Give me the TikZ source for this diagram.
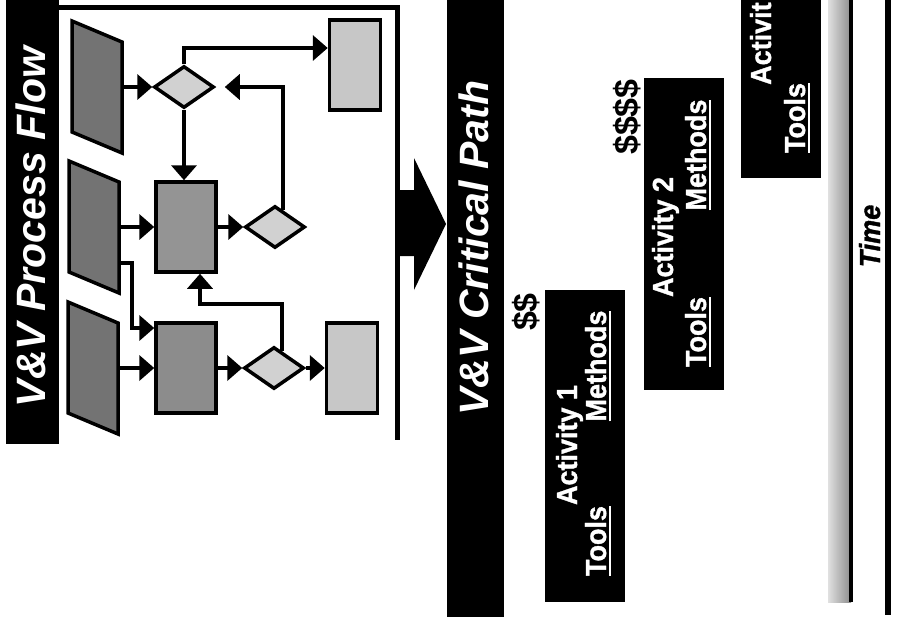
\documentclass[tikz,border=0pt]{standalone}
\usepackage{fontspec}
\setmainfont{Liberation Sans}
\newfontfamily\narrowfont[FakeStretch=0.93, FakeBold=1.2, UprightFont={Liberation Sans Bold},
  ItalicFont={Liberation Sans Bold Italic}, BoldFont={Liberation Sans Bold},
  BoldItalicFont={Liberation Sans Bold Italic}]{Liberation Sans}
\usetikzlibrary{arrows.meta,positioning,shapes.geometric,calc}
\tikzset{
  titlebar/.style={fill=black, rotate=90, minimum width=#1, minimum height=53pt, inner sep=0pt},
  titletext/.style={text=white, rotate=90, inner sep=0pt,
                    font=\bfseries\itshape\fontsize{41}{41}\selectfont},
  iobox/.style={minimum width=50pt, minimum height=90pt, inner sep=0pt},
  iofill/.style={draw, line width=3.5pt, fill=#1},
  procbox/.style={draw, line width=3.5pt, fill=#1, minimum width=60pt, minimum height=90pt, inner sep=0pt},
  decbox/.style={draw, diamond, line width=3.5pt, fill=black!18, minimum width=60pt,
                 minimum height=42pt, inner sep=0pt},
  flowarrow/.style={line width=4pt, -{Triangle[length=15pt, width=25pt]}},
  frameline/.style={line width=5pt},
  actbox/.style={fill=black, minimum width=80pt, minimum height=#1, inner sep=0pt},
  actname/.style={text=white, rotate=90, inner sep=0pt, anchor=base,
                  font=\narrowfont\fontsize{29}{29}\selectfont},
  actitem/.style={actname, outer xsep=0pt, outer ysep=4pt},
  uline/.style={white, line width=2pt},
  cost/.style={rotate=90, inner sep=0pt, font=\bfseries\fontsize{34}{34}\selectfont},
  timelabel/.style={rotate=90, inner sep=0pt, anchor=base,
                    font=\narrowfont\itshape\fontsize{29}{29}\selectfont},
}
% data / input shape: name, x, y
\newcommand{\iopara}[3]{%
  \filldraw[iofill=black!55] (#2-25,#3-66) -- (#2+25,#3-45) -- (#2+25,#3+66) -- (#2-25,#3+45) -- cycle;
  \node[iobox] (#1) at (#2,#3) {};}

\begin{document}
\begin{tikzpicture}[x=1pt, y=-1pt]
\useasboundingbox (0,0) rectangle (898,625);
\clip (0,0) rectangle (898,625);

% Process flow panel
\node[titlebar=450pt] (flowbar) at (32,219) {};
\node[titletext] (flowtitle) at (31,227) {V\&V Process Flow};
\draw[frameline] (58,7) -- (397,7) -- (397,440);

\iopara{in1}{97}{87}
\iopara{in2}{94}{227}
\iopara{in3}{93}{368}

\node[decbox] (dec1) at (184,87) {};
\node[procbox=black!42] (proc1) at (186,227) {};
\node[decbox] (dec2) at (275,227) {};
\node[procbox=black!22, minimum width=51pt] (out1) at (355,65) {};
\node[procbox=black!45] (proc2) at (186,368) {};
\node[decbox] (dec3) at (274,368) {};
\node[procbox=black!22, minimum width=51pt] (out2) at (352,368) {};

\draw[flowarrow] (in1.east) -- (dec1.west);
\draw[flowarrow] (dec1.north) |- ($(out1.west)+(0,-17)$);
\draw[flowarrow] (dec1.south) -- (dec1.south |- proc1.north);
\draw[flowarrow] (in2.east) -- (proc1.west);
\draw[flowarrow] (proc1.east) -- (dec2.west);
\draw[flowarrow, shorten >=9pt] (dec2.65) |- (dec1.east);
\draw[flowarrow] ($(in2.east)+(0,36)$) -- ++(13,0) |- ($(proc2.west)+(0,-40)$);
\draw[flowarrow] (in3.east) -- (proc2.west);
\draw[flowarrow] (proc2.east) -- (dec3.west);
\draw[flowarrow] (dec3.east) -- (out2.west);
\draw[flowarrow] (dec3.65) |- ($(proc1.south)+(14,30)$) -- ($(proc1.south)+(14,0)$);

% Arrow down to the critical path
\fill (397,190) -- (414,190) -- (414,158) -- (446,224) -- (414,290) -- (414,256) -- (397,256) -- cycle;

% Critical path panel
\node[titlebar=627pt, minimum height=57pt] (pathbar) at (475.5,303.5) {};
\node[titletext] (pathtitle) at (474,248) {V\&V Critical Path};

% Activity 1
\node[actbox=312pt] (act1) at (585,446) {};
\node[cost] (cost1) at (526,312) {\$\$};
\node[actname] (act1name) at (577,445) {Activity 1};
\node[actitem] (tools1) at (606,541) {Tools};
\node[actitem] (methods1) at (606,366) {Methods};
\draw[uline] (tools1.south west) -- (tools1.south east);
\draw[uline] (methods1.south west) -- (methods1.south east);

% Activity 2
\node[actbox=312pt] (act2) at (683.5,234) {};
\node[cost] (cost2) at (627,117) {\$\$\$\$};
\node[actname] (act2name) at (673,237) {Activity 2};
\node[actitem] (tools2) at (706,332) {Tools};
\node[actitem] (methods2) at (706,155) {Methods};
\draw[uline] (tools2.south west) -- (tools2.south east);
\draw[uline] (methods2.south west) -- (methods2.south east);

% Activity 3
\node[actbox=190pt] (act3) at (781,83) {};
\node[actname, anchor=base west] (act3name) at (771,85) {Activit};
\node[actitem] (tools3) at (805,118) {Tools};
\draw[uline] (tools3.south west) -- (tools3.south east);

% Time axis
\shade[left color=black!12, right color=black!45] (828,-5) rectangle (851,602);
\draw[line width=4pt] (851,-5) -- (851,602);
\node[timelabel] (timetext) at (880,236) {Time};
\draw[line width=6pt] (888,-5) -- (888,615);

\end{tikzpicture}
\end{document}
